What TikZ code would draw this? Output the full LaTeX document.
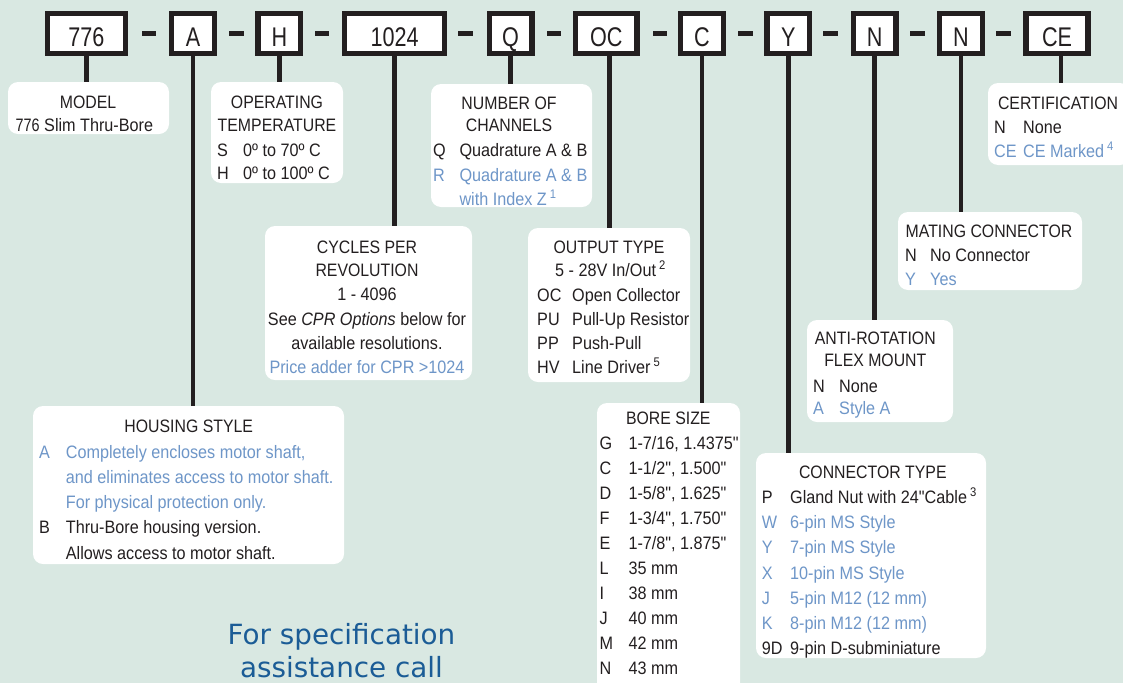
\documentclass[tikz,border=0pt]{standalone}
\usepackage{fontspec}
\setmainfont[FakeStretch=0.9]{Liberation Sans}
\newfontfamily\hdfont[FakeStretch=0.88]{Liberation Sans}
\newfontfamily\codefont[FakeStretch=0.8]{Liberation Sans}
\newfontfamily\qfont[FakeStretch=0.9, Ligatures=TeXOff]{Liberation Sans}
\newfontfamily\callfont{DejaVu Sans}
\definecolor{bg}{RGB}{217,232,226}
\definecolor{ink}{RGB}{35,31,32}
\definecolor{lblue}{RGB}{110,150,200}
\definecolor{cblue}{RGB}{27,92,150}
\newcommand\fnmk[1]{\,\raisebox{0.38em}{\fontsize{12.5}{12.5}\selectfont #1}}
\newcommand\inch{{\qfont\char"22\relax}}
\tikzset{
 panel/.style={fill=white, rounded corners=10pt, inner sep=0pt, draw=none},
 codebox/.style={draw=ink, line width=5.4pt, fill=white, inner sep=0pt, minimum height=40pt},
 dashbar/.style={fill=ink, draw=none, inner sep=0pt, minimum width=14.5pt, minimum height=5.4pt},
 stem/.style={draw=ink, line width=4.8pt},
 codelbl/.style={inner sep=0pt, anchor=base, font=\codefont\fontsize{27}{27}\selectfont, text=ink},
 hd/.style={inner sep=0pt, anchor=base, font=\hdfont\fontsize{18}{18}\selectfont, text=ink},
 tx/.style={inner sep=0pt, anchor=base west, font=\fontsize{18}{18}\selectfont, text=ink},
 bl/.style={tx, text=lblue},
 ctr/.style={inner sep=0pt, anchor=base, font=\fontsize{18}{18}\selectfont, text=ink},
 calltxt/.style={inner sep=0pt, anchor=base, font=\callfont\fontsize{27.8}{27.8}\selectfont, text=cblue},
}
\begin{document}
\begin{tikzpicture}[x=1pt,y=-1pt]
\useasboundingbox (0,0) rectangle (1123,683);
\fill[bg] (0,0) rectangle (1123,683);

% panels
\node[panel, minimum width=161pt, minimum height=52pt] (mdl) at (88.5,108) {};
\node[panel, minimum width=132pt, minimum height=101pt] (opt) at (277,132.5) {};
\node[panel, minimum width=161pt, minimum height=123pt] (chn) at (511.5,145.5) {};
\node[panel, minimum width=142pt, minimum height=82pt] (crt) at (1059,124) {};
\node[panel, minimum width=207pt, minimum height=154pt] (cpr) at (368.5,303) {};
\node[panel, minimum width=162pt, minimum height=154pt] (out) at (609,305) {};
\node[panel, minimum width=184pt, minimum height=78pt] (mat) at (990,251) {};
\node[panel, minimum width=146pt, minimum height=102pt] (ant) at (880,371) {};
\node[panel, minimum width=311pt, minimum height=158pt] (hsg) at (188.5,485) {};
\node[panel, minimum width=143pt, minimum height=297pt] (bor) at (668.5,551.5) {};
\node[panel, minimum width=230pt, minimum height=205pt] (con) at (871,555.5) {};

% code boxes
\node[codebox, minimum width=78pt] (b776) at (86.3,33.75) {};
\node[codebox, minimum width=42.6pt] (bA) at (193,33.75) {};
\node[codebox, minimum width=42.6pt] (bH) at (279.3,33.75) {};
\node[codebox, minimum width=100pt] (b1024) at (394.7,33.75) {};
\node[codebox, minimum width=42.6pt] (bQ) at (510.5,33.75) {};
\node[codebox, minimum width=61.7pt] (bOC) at (606.2,33.75) {};
\node[codebox, minimum width=42.6pt] (bC) at (701.9,33.75) {};
\node[codebox, minimum width=42.6pt] (bY) at (788.4,33.75) {};
\node[codebox, minimum width=42.6pt] (bN) at (874.7,33.75) {};
\node[codebox, minimum width=42.6pt] (bNN) at (961,33.75) {};
\node[codebox, minimum width=62pt] (bCE) at (1057,33.75) {};

% stems
\coordinate (sOC) at ([xshift=3pt]bOC.south);
\coordinate (sCE) at ([xshift=4pt]bCE.south);
\draw[stem] (b776.south) -- (b776.south |- mdl.north);
\draw[stem] (bA.south) -- (bA.south |- hsg.north);
\draw[stem] (bH.south) -- (bH.south |- opt.north);
\draw[stem] (b1024.south) -- (b1024.south |- cpr.north);
\draw[stem] (bQ.south) -- (bQ.south |- chn.north);
\draw[stem] (sOC) -- (sOC |- out.north);
\draw[stem] (bC.south) -- (bC.south |- bor.north);
\draw[stem] (bY.south) -- (bY.south |- con.north);
\draw[stem] (bN.south) -- (bN.south |- ant.north);
\draw[stem] (bNN.south) -- (bNN.south |- mat.north);
\draw[stem] (sCE) -- (sCE |- crt.north);

% dashes
\node[dashbar] (d1) at (149,33.7) {};
\node[dashbar] (d2) at (236.3,33.7) {};
\node[dashbar] (d3) at (322,33.7) {};
\node[dashbar] (d4) at (465.5,33.7) {};
\node[dashbar] (d5) at (553.8,33.7) {};
\node[dashbar] (d6) at (659.8,33.7) {};
\node[dashbar] (d7) at (745.7,33.7) {};
\node[dashbar] (d8) at (830.3,33.7) {};
\node[dashbar] (d9) at (917.3,33.7) {};
\node[dashbar] (d10) at (1003.5,33.7) {};

% code labels
\node[codelbl] (t776) at (86.3,46.4) {776};
\node[codelbl] (tA) at (193,46.4) {A};
\node[codelbl] (tH) at (279.3,46.4) {H};
\node[codelbl] (t1024) at (394.7,46.4) {1024};
\node[codelbl] (tQ) at (510.5,46.4) {Q};
\node[codelbl] (tOC) at (606.2,46.4) {OC};
\node[codelbl] (tC) at (701.9,46.4) {C};
\node[codelbl] (tY) at (788.4,46.4) {Y};
\node[codelbl] (tN) at (874.7,46.4) {N};
\node[codelbl] (tNN) at (961,46.4) {N};
\node[codelbl] (tCE) at (1057,46.4) {CE};

% MODEL
\node[hd] (mdl1) at (88,108.5) {MODEL};
\node[tx, font=\codefont\fontsize{18}{18}\selectfont] (mdl2c) at (15.5,131.5) {776};
\node[tx] (mdl2d) at (44,131.5) {Slim Thru-Bore};

% OPERATING TEMPERATURE
\node[hd] (opt1) at (277,108.3) {OPERATING};
\node[hd] (opt2) at (277,131.5) {TEMPERATURE};
\node[tx] (opt3c) at (217,156.5) {S};
\node[tx] (opt3d) at (243,156.5) {0º to 70º C};
\node[tx] (opt4c) at (217,179.7) {H};
\node[tx] (opt4d) at (243,179.7) {0º to 100º C};

% CHANNELS
\node[hd] (chn1) at (509,109) {NUMBER OF};
\node[hd] (chn2) at (509,131.5) {CHANNELS};
\node[tx] (chn3c) at (433,156.5) {Q};
\node[tx] (chn3d) at (459.3,156.5) {Quadrature A \& B};
\node[bl] (chn4c) at (433,181.5) {R};
\node[bl] (chn4d) at (459.3,181.5) {Quadrature A \& B};
\node[bl] (chn5d) at (459.3,205) {with Index Z\fnmk{1}};

% CERTIFICATION
\node[hd] (crt1) at (1058,109.5) {CERTIFICATION};
\node[tx] (crt2c) at (994,133.7) {N};
\node[tx] (crt2d) at (1023,133.7) {None};
\node[bl] (crt3c) at (994,157.3) {CE};
\node[bl] (crt3d) at (1023,157.3) {CE Marked\fnmk{4}};

% CYCLES PER REVOLUTION
\node[hd] (cpr1) at (367,253.3) {CYCLES PER};
\node[hd] (cpr2) at (367,276.5) {REVOLUTION};
\node[ctr] (cpr3) at (367,300.5) {1 - 4096};
\node[ctr] (cpr4) at (367,325.5) {See \textit{CPR Options} below for};
\node[ctr] (cpr5) at (367,349.8) {available resolutions.};
\node[ctr, text=lblue] (cpr6) at (367,373.2) {Price adder for CPR >1024};

% OUTPUT TYPE
\node[hd] (out1) at (609,253.5) {OUTPUT TYPE};
\node[tx] (out2) at (555,276.5) {5 - 28V In/Out\fnmk{2}};
\node[tx] (out3c) at (537,301.5) {OC};
\node[tx] (out3d) at (572,301.5) {Open Collector};
\node[tx] (out4c) at (537,325.5) {PU};
\node[tx] (out4d) at (572,325.5) {Pull-Up Resistor};
\node[tx] (out5c) at (537,349.8) {PP};
\node[tx] (out5d) at (572,349.8) {Push-Pull};
\node[tx] (out6c) at (537,373.2) {HV};
\node[tx] (out6d) at (572,373.2) {Line Driver\fnmk{5}};

% MATING CONNECTOR
\node[hd] (mat1) at (989,237.2) {MATING CONNECTOR};
\node[tx] (mat2c) at (905,261.5) {N};
\node[tx] (mat2d) at (930,261.5) {No Connector};
\node[bl] (mat3c) at (905,285.8) {Y};
\node[bl] (mat3d) at (930,285.8) {Yes};

% ANTI-ROTATION FLEX MOUNT
\node[hd] (ant1) at (875.3,344.8) {ANTI-ROTATION};
\node[hd] (ant2) at (875.3,366.5) {FLEX MOUNT};
\node[tx] (ant3c) at (813,392.5) {N};
\node[tx] (ant3d) at (839,392.5) {None};
\node[bl] (ant4c) at (813,414.8) {A};
\node[bl] (ant4d) at (839,414.8) {Style A};

% HOUSING STYLE
\node[hd] (hsg1) at (188.7,432.5) {HOUSING STYLE};
\node[bl] (hsg2c) at (39,458.2) {A};
\node[bl] (hsg2d) at (65.7,458.2) {Completely encloses motor shaft,};
\node[bl] (hsg3d) at (65.7,483.2) {and eliminates access to motor shaft.};
\node[bl] (hsg4d) at (65.7,508.2) {For physical protection only.};
\node[tx] (hsg5c) at (39,533.2) {B};
\node[tx] (hsg5d) at (65.7,533.2) {Thru-Bore housing version.};
\node[tx] (hsg6d) at (65.7,559.2) {Allows access to motor shaft.};

% BORE SIZE
\node[hd] (bor0) at (668.3,424.8) {BORE SIZE};
\foreach \c/\v [count=\i from 0] in {G/{1-7/16, 1.4375\inch},C/{1-1/2\inch, 1.500\inch},D/{1-5/8\inch, 1.625\inch},F/{1-3/4\inch, 1.750\inch},E/{1-7/8\inch, 1.875\inch},L/{35 mm},I/{38 mm},J/{40 mm},M/{42 mm},N/{43 mm}}{
  \node[tx] (borc\i) at (599.3,449.8+25*\i) {\c};
  \node[tx] (borv\i) at (628.3,449.8+25*\i) {\v};
}

% CONNECTOR TYPE
\node[hd] (con0) at (872.8,478.2) {CONNECTOR TYPE};
\node[tx] (con1c) at (761.7,503.2) {P};
\node[tx] (con1d) at (790,503.2) {Gland Nut with 24\inch Cable\fnmk{3}};
\node[bl] (con2c) at (761.7,528.5) {W};
\node[bl] (con2d) at (790,528.5) {6-pin MS Style};
\node[bl] (con3c) at (761.7,553.7) {Y};
\node[bl] (con3d) at (790,553.7) {7-pin MS Style};
\node[bl] (con4c) at (761.7,579) {X};
\node[bl] (con4d) at (790,579) {10-pin MS Style};
\node[bl] (con5c) at (761.7,604.3) {J};
\node[bl] (con5d) at (790,604.3) {5-pin M12 (12 mm)};
\node[bl] (con6c) at (761.7,629.5) {K};
\node[bl] (con6d) at (790,629.5) {8-pin M12 (12 mm)};
\node[tx] (con7c) at (761.7,654.8) {9D};
\node[tx] (con7d) at (790,654.8) {9-pin D-subminiature};

% call text
\node[calltxt] (call1) at (341.5,644) {For specification};
\node[calltxt] (call2) at (341.5,677) {assistance call};
\end{tikzpicture}
\end{document}
